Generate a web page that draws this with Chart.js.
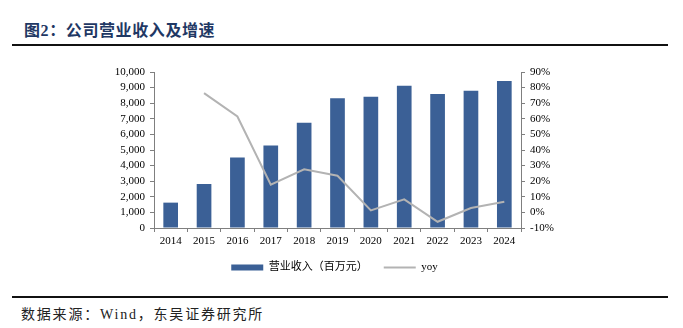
<!DOCTYPE html>
<html>
<head>
<meta charset="utf-8">
<script src="https://cdn.jsdelivr.net/npm/chart.js@4/dist/chart.umd.min.js"></script>
<style>
  body { margin: 0; width: 683px; height: 328px; background: #fff; position: relative; overflow: hidden; }
  .title { position: absolute; left: 24px; top: 17px; font: bold 16px 'Liberation Serif', 'Noto Sans CJK SC'; color: #1f3864; letter-spacing: 0.6px; }
  .rule { position: absolute; left: 12px; width: 656px; height: 2px; background: #111; }
  .source { position: absolute; left: 21px; top: 303px; font: 14px 'Liberation Serif', 'Noto Sans CJK SC'; color: #222; letter-spacing: 1.8px; }
  #wrap { position: absolute; left: 0; top: 50px; width: 683px; height: 233px; }
</style>
</head>
<body>
<div class="title">图2：公司营业收入及增速</div>
<div class="rule" style="top:44px"></div>
<div id="wrap"><canvas id="grafico"></canvas></div>
<div class="rule" style="top:296px"></div>
<div class="source">数据来源：Wind，东吴证券研究所</div>

<script>
const years = ['2014', '2015', '2016', '2017', '2018', '2019', '2020', '2021', '2022', '2023', '2024'];
// 营业收入, 百万元
const revenue = [1626, 2820, 4518, 5285, 6750, 8310, 8420, 9126, 8586, 8804, 9422];
// 同比增速, %
const yoy = [null, 76.5, 61.5, 17.8, 27.6, 23.5, 1.3, 8.4, -6.0, 2.8, 6.8];

const serif = "'Liberation Serif', 'Times New Roman', 'Noto Sans CJK SC'";
const axisColor = '#7f7f7f';

new Chart('grafico', {
    data: {
        labels: years,
        datasets: [
            {
                type: 'line',
                label: 'yoy',
                data: yoy,
                yAxisID: 'y1',
                borderColor: '#b3b3b3',
                backgroundColor: '#b3b3b3',
                borderWidth: 2,
                pointRadius: 0,
                tension: 0,
                order: 0
            },
            {
                type: 'bar',
                label: '营业收入（百万元）',
                data: revenue,
                yAxisID: 'y',
                backgroundColor: '#3b6096',
                barPercentage: 0.44,
                categoryPercentage: 1,
                order: 1
            }
        ]
    },
    options: {
        responsive: true,
        maintainAspectRatio: false,
        animation: false,
        layout: { padding: { top: 22, left: 0, right: 14, bottom: 0 } },
        plugins: {
            tooltip: { enabled: false },
            legend: {
                position: 'bottom',
                labels: {
                    font: { family: serif, size: 11 },
                    color: '#000',
                    padding: 16,
                    usePointStyle: true,
                    pointStyleWidth: 32,
                    boxHeight: 6,
                    sort: (a, b) => b.datasetIndex - a.datasetIndex,
                    generateLabels: chart => {
                        const items = Chart.defaults.plugins.legend.labels.generateLabels(chart);
                        items.forEach(it => {
                            if (it.datasetIndex === 1) {
                                it.pointStyle = 'rect';
                                it.lineWidth = 0;
                                it.strokeStyle = 'rgba(0,0,0,0)';
                            } else {
                                it.pointStyle = 'line';
                                it.lineWidth = 2;
                            }
                        });
                        return items;
                    }
                }
            }
        },
        scales: {
            x: {
                grid: { offset: true, drawOnChartArea: false, tickLength: 4, color: axisColor },
                border: { color: axisColor },
                ticks: { font: { family: serif, size: 11 }, color: '#000', padding: 3, maxRotation: 0 },
                afterFit: scale => { scale.height = 18; }
            },
            y: {
                position: 'left',
                min: 0,
                max: 10000,
                ticks: {
                    stepSize: 1000,
                    autoSkip: false,
                    font: { family: serif, size: 11 },
                    color: '#000',
                    padding: 5,
                    callback: v => v.toLocaleString('en-US')
                },
                grid: { drawOnChartArea: false, tickLength: 4, color: axisColor },
                border: { color: axisColor },
                afterFit: scale => { scale.width = 154; }
            },
            y1: {
                position: 'right',
                min: -10,
                max: 90,
                ticks: {
                    stepSize: 10,
                    autoSkip: false,
                    font: { family: serif, size: 11 },
                    color: '#000',
                    padding: 5,
                    callback: v => v + '%'
                },
                grid: { drawOnChartArea: false, tickLength: 4, color: axisColor },
                border: { color: axisColor },
                afterFit: scale => { scale.width = 148; }
            }
        }
    }
});
</script>
</body>
</html>
